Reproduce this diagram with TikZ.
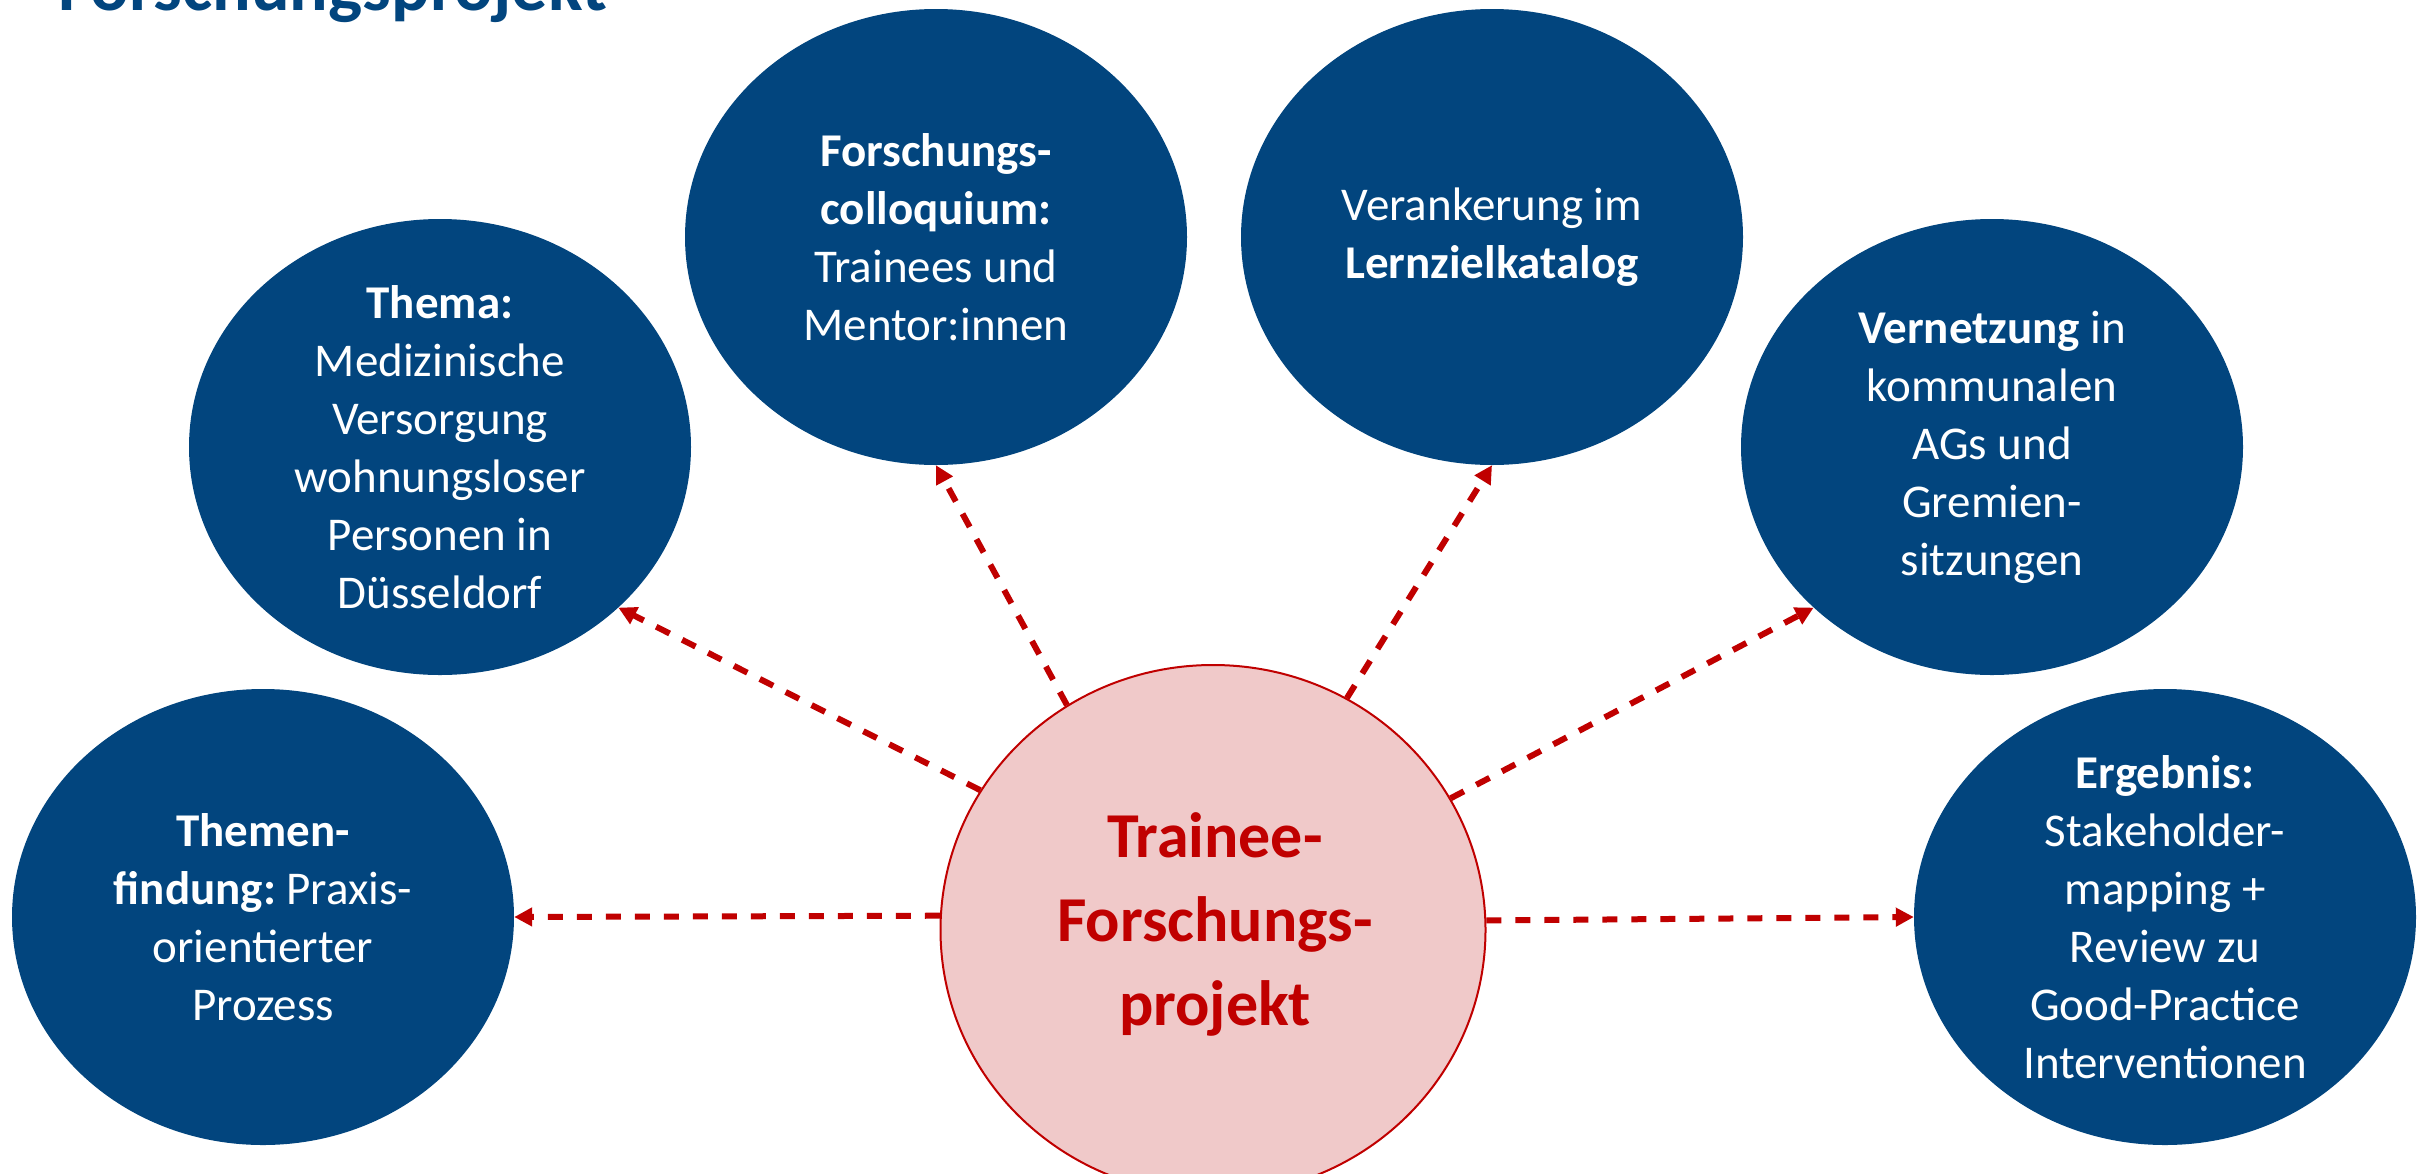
\documentclass[tikz,border=0pt]{standalone}
\usepackage{fontspec}
\setmainfont{Carlito}
\frenchspacing
\usetikzlibrary{arrows.meta,shapes.geometric}
\definecolor{uniblue}{HTML}{02457E}
\definecolor{darkred}{HTML}{C00000}
\definecolor{lightpink}{HTML}{F0C9C9}
\begin{document}
\begin{tikzpicture}[x=1pt,y=-1pt,
  blob/.style={ellipse, fill=uniblue, draw=none, minimum width=502pt, minimum height=456pt, inner sep=0pt},
  bluetxt/.style={text=white, align=center, font=\fontsize{47}{58}\selectfont, inner sep=0pt},
  centertxt/.style={text=darkred, align=center, font=\fontsize{64}{84}\selectfont\bfseries, inner sep=0pt},
  link/.style={draw=darkred, line width=6pt, dash pattern=on 15pt off 14pt, -{Triangle[length=18pt,width=18pt]}},
]
\useasboundingbox (0,0) rectangle (2425,1173);
\clip (0,0) rectangle (2425,1173);
\fill[white] (0,0) rectangle (2425,1173);

\node[anchor=base west, inner sep=0pt, text=uniblue, font=\fontsize{72}{86}\selectfont\bfseries] (title) at (58,10) {Forschungsprojekt};

\node[blob] (themen) at (263,917) {};
\node[bluetxt] (themenT) at (themen) {\textbf{Themen-}\\\textbf{findung:} Praxis-\\orientierter\\Prozess};

\node[blob] (thema) at (440,447) {};
\node[bluetxt] (themaT) at (thema) {\textbf{Thema:}\\Medizinische\\Versorgung\\wohnungsloser\\Personen in\\Düsseldorf};

\node[blob] (coll) at (936,237) {};
\node[bluetxt] (collT) at (coll) {\textbf{Forschungs-}\\\textbf{colloquium:}\\Trainees und\\Mentor:innen};

\node[blob] (verank) at (1492,237) {};
\node[bluetxt] (verankT) at (verank) {Verankerung im\\\textbf{Lernzielkatalog}};

\node[blob] (vernetz) at (1992,447) {};
\node[bluetxt] (vernetzT) at (vernetz) {\textbf{Vernetzung} in\\kommunalen\\AGs und\\Gremien-\\sitzungen};

\node[blob] (ergebnis) at (2165,917) {};
\node[bluetxt] (ergebnisT) at (ergebnis) {\textbf{Ergebnis:}\\Stakeholder-\\mapping +\\Review zu\\Good-Practice\\Interventionen};

\node[ellipse, fill=lightpink, draw=darkred, line width=2pt, minimum width=545pt, minimum height=530pt, inner sep=0pt] (C) at (1213,930) {};
\node[centertxt] (CT) at (1215,924) {Trainee-\\Forschungs-\\projekt};

\draw[link] (C.177.3) -- (themen.east);
\draw[link] (C.149.3) -- (thema.-42);
\draw[link] (C.123.3) -- (coll.south);
\draw[link] (C.60.8) -- (verank.south);
\draw[link] (C.29.4) -- (vernetz.-138);
\draw[link] (C.2.7) -- (ergebnis.west);
\end{tikzpicture}
\end{document}
